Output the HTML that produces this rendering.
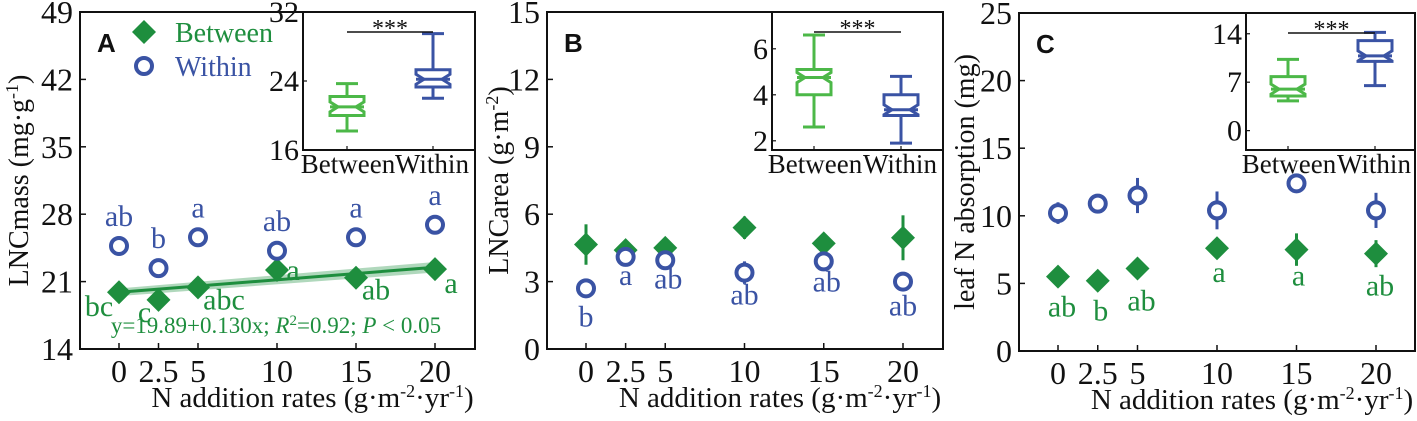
<!DOCTYPE html>
<html><head><meta charset="utf-8"><style>
html,body{margin:0;padding:0;background:#fff;}
svg{display:block;font-family:"Liberation Serif","DejaVu Serif",serif;}
</style></head><body>
<svg id="chart" width="1417" height="421" viewBox="0 0 1417 421" xmlns="http://www.w3.org/2000/svg" font-family="Liberation Serif, DejaVu Serif, serif"></svg>
<script>
const rates=[0,2.5,5,10,15,20];
const aBetween=[19.9,19.1,20.4,22.2,21.4,22.3];
const aBetweenErr=[0.3,0.3,0.4,0.6,0.5,0.4];
const aWithin=[24.7,22.4,25.6,24.2,25.6,26.9];
const aWithinErr=[1.0,0.3,0.3,0.5,0.3,1.0];
const aBetweenLetters=["bc","c","abc","a","ab","a"];
const aWithinLetters=["ab","b","a","ab","a","a"];
const bBetween=[4.65,4.4,4.5,5.4,4.7,4.95];
const bBetweenErr=[0.9,0.3,0.3,0.5,0.4,1.0];
const bWithin=[2.7,4.1,3.95,3.4,3.9,3.0];
const bWithinErr=[0.2,0.4,0.2,0.5,0.4,0.2];
const bWithinLetters=["b","a","ab","ab","ab","ab"];
const cBetween=[5.5,5.2,6.1,7.6,7.5,7.2];
const cBetweenErr=[0.3,0.3,0.3,0.3,1.2,1.0];
const cWithin=[10.2,10.9,11.5,10.4,12.4,10.4];
const cWithinErr=[0.8,0.3,1.3,1.4,0.3,1.3];
const cBetweenLetters=["ab","b","ab","a","a","ab"];
const insetGroups=["Between","Within"];
const aBox=[[18.2,20.0,21.0,22.2,23.7],[22.0,23.3,24.2,25.3,29.5]];
const bBox=[[2.6,4.0,4.75,5.1,6.6],[1.9,3.1,3.35,4.0,4.8]];
const cBox=[[4.3,5.0,6.0,7.8,10.3],[6.5,10.0,10.8,13.0,14.2]];
const aTicks=[14,21,28,35,42,49], bTicks=[0,3,6,9,12,15], cTicks=[0,5,10,15,20,25];
const aInTicks=[16,24,32], bInTicks=[2,4,6], cInTicks=[0,7,14];

const G="#1e8e3e", LG="#4cb848", B="#3a53a4";
const svg=document.getElementById('chart');
const NS="http://www.w3.org/2000/svg";
function el(tag,attrs,parent,text){const e=document.createElementNS(NS,tag);for(const k in attrs)e.setAttribute(k,attrs[k]);if(text!==undefined)e.textContent=text;(parent||svg).appendChild(e);return e;}

function panel(p){
  const g=el('g',{});
  
  
  const X=v=>p.x0+(v/20)*(p.x20-p.x0);
  const Y=v=>p.bot-(v-p.ymin)/(p.ymax-p.ymin)*(p.bot-p.top);
  const fr=el('rect',{x:p.L,y:p.top,width:p.R-p.L,height:p.bot-p.top,fill:'none',stroke:'#111','stroke-width':2},g);
  
  p.ticks.forEach(t=>{
    el('line',{x1:p.L,x2:p.L+6,y1:Y(t),y2:Y(t),stroke:'#111','stroke-width':1.5},g);
    const tx=el('text',{x:p.L-7,y:Y(t)+11,'text-anchor':'end','font-size':32,fill:'#111'},g,String(t));
    
  });
  rates.forEach(r=>{
    el('line',{x1:X(r),x2:X(r),y1:p.bot,y2:p.bot-6,stroke:'#111','stroke-width':1.5},g);
    const tx=el('text',{x:X(r),y:p.bot+33,'text-anchor':'middle','font-size':32,fill:'#111'},g,String(r));
    
  });
  const xt=el('text',{x:(p.L+p.R)/2+35,y:p.bot+58,'text-anchor':'middle','font-size':29,fill:'#111'},g);
  xt.innerHTML='N addition rates (g·m<tspan dy="-10" font-size="18">-2</tspan><tspan dy="10">·yr</tspan><tspan dy="-10" font-size="18">-1</tspan><tspan dy="10">)</tspan>';
  
  const cy=(p.top+p.bot)/2, yx=p.L-p.yoff;
  const yt=el('text',{x:yx,y:cy,'text-anchor':'middle','font-size':28,fill:'#111',transform:`rotate(-90 ${yx} ${cy})`},g);
  yt.innerHTML=p.ytitle;
  
  const lab=el('text',{x:p.L+17,y:p.top+40,'font-size':26,'font-weight':'bold','font-family':'Liberation Sans, sans-serif',fill:'#111'},g,p.id);
  
  if(p.fit){
    const [a,b]=p.fit;
    const band=el('polygon',{points:`${X(0)},${Y(a-0.4)} ${X(20)},${Y(a+20*b-0.55)} ${X(20)},${Y(a+20*b+0.55)} ${X(0)},${Y(a+0.4)}`,fill:G,opacity:0.35},g);
    
    const fl=el('line',{x1:X(0),y1:Y(a),x2:X(20),y2:Y(a+20*b),stroke:G,'stroke-width':3},g);
    
    const eq=el('text',{x:X(10)-1,y:p.bot-16,'text-anchor':'middle','font-size':23,fill:G},g);
    eq.innerHTML='y=19.89+0.130x; <tspan font-style="italic">R</tspan><tspan dy="-8" font-size="15">2</tspan><tspan dy="8">=0.92; </tspan><tspan font-style="italic">P</tspan> &lt; 0.05';
    
  }
  p.bet.forEach((v,i)=>{
    const x=X(rates[i]),y=Y(v),e=p.betErr[i]*(p.bot-p.top)/(p.ymax-p.ymin);
    el('line',{x1:x,x2:x,y1:y-e,y2:y+e,stroke:G,'stroke-width':3},g);
    const d=el('polygon',{points:`${x},${y-12} ${x+12},${y} ${x},${y+12} ${x-12},${y}`,fill:G},g);
    
  });
  p.wit.forEach((v,i)=>{
    const x=X(rates[i]),y=Y(v),e=p.witErr[i]*(p.bot-p.top)/(p.ymax-p.ymin);
    el('line',{x1:x,x2:x,y1:y-e,y2:y+e,stroke:B,'stroke-width':3},g);
    const c=el('circle',{cx:x,cy:y,r:8,fill:'#fff',stroke:B,'stroke-width':4},g);
    
  });
  (p.letters||[]).forEach(L=>{
    const t=el('text',{x:X(rates[L.i])+L.dx,y:Y(L.v)+L.dy,'text-anchor':'middle','font-size':30,fill:L.c},g,L.t);
    
  });
  const I=p.inset, IY=v=>I.bot-(v-I.min)/(I.max-I.min)*(I.bot-I.top);
  const ig=el('g',{},g);
  
  el('rect',{x:I.L,y:p.top,width:p.R-I.L,height:I.bot-p.top,fill:'#fff',stroke:'#111','stroke-width':2},ig);
  I.ticks.forEach(t=>{
    el('line',{x1:I.L,x2:I.L+4,y1:IY(t),y2:IY(t),stroke:'#111','stroke-width':1.2},ig);
    const tx=el('text',{x:I.L-4,y:IY(t)+10,'text-anchor':'end','font-size':30,fill:'#111'},ig,String(t));
    
  });
  [I.xb,I.xw].forEach((x,k)=>{
    el('line',{x1:x,x2:x,y1:I.bot,y2:I.bot-4,stroke:'#111','stroke-width':1.2},ig);
    const tx=el('text',{x:x+(k?-1:1),y:I.bot+23,'text-anchor':'middle','font-size':27,fill:'#111'},ig,insetGroups[k]);
    
    const s=I.box[k],col=k?B:LG,w=17,n=8;
    const [lo,q1,md,q3,hi]=s.map(IY);
    el('line',{x1:x,x2:x,y1:hi,y2:q3,stroke:col,'stroke-width':3},ig);
    el('line',{x1:x,x2:x,y1:q1,y2:lo,stroke:col,'stroke-width':3},ig);
    el('line',{x1:x-11,x2:x+11,y1:hi,y2:hi,stroke:col,'stroke-width':3},ig);
    el('line',{x1:x-11,x2:x+11,y1:lo,y2:lo,stroke:col,'stroke-width':3},ig);
    const nt=Math.min(5,(q1-q3)/3);
    const bx=el('polygon',{points:`${x-w},${q3} ${x+w},${q3} ${x+w},${md-nt} ${x+w-n},${md} ${x+w},${md+nt} ${x+w},${q1} ${x-w},${q1} ${x-w},${md+nt} ${x-w+n},${md} ${x-w},${md-nt}`,fill:'none',stroke:col,'stroke-width':3},ig);
    
    el('line',{x1:x-w,x2:x+w,y1:md,y2:md,stroke:col,'stroke-width':3},ig);
  });
  el('line',{x1:I.xb,x2:I.xw,y1:p.top+20,y2:p.top+20,stroke:'#111','stroke-width':1.5},ig);
  const st=el('text',{x:(I.xb+I.xw)/2,y:p.top+24,'text-anchor':'middle','font-size':24,fill:'#111'},ig,'***');
  
}

panel({id:'A',L:80,R:475,top:12,bot:349,x0:119,x20:435,ymin:14,ymax:49,ticks:aTicks,yoff:52,
  ytitle:'LNCmass (mg·g<tspan dy="-10" font-size="18">-1</tspan><tspan dy="10">)</tspan>',
  bet:aBetween,betErr:aBetweenErr,wit:aWithin,witErr:aWithinErr,fit:[19.89,0.13],
  letters:[...aBetweenLetters.map((t,i)=>({i,v:aBetween[i],t,c:G,dx:[-20,-14,26,16,20,16][i],dy:[24,22,22,10,22,24][i]})),
           ...aWithinLetters.map((t,i)=>({i,v:aWithin[i],t,c:B,dx:0,dy:-20}))],
  inset:{L:303,bot:150,top:12,min:16,max:32,ticks:aInTicks,xb:347,xw:433,box:aBox}});
panel({id:'B',L:547,R:943,top:12,bot:349,x0:586,x20:903,ymin:0,ymax:15,ticks:bTicks,yoff:39,
  ytitle:'LNCarea (g·m<tspan dy="-10" font-size="18">-2</tspan><tspan dy="10">)</tspan>',
  bet:bBetween,betErr:bBetweenErr,wit:bWithin,witErr:bWithinErr,
  letters:bWithinLetters.map((t,i)=>({i,v:bWithin[i],t,c:B,dx:[0,0,3,0,3,0][i],dy:[38,28,28,32,30,34][i]})),
  inset:{L:772,bot:150,top:12,min:1.6,max:7.6,ticks:bInTicks,xb:814,xw:901,box:bBox}});
panel({id:'C',L:1019,R:1415,top:13,bot:351,x0:1058,x20:1376,ymin:0,ymax:25,ticks:cTicks,yoff:45,
  ytitle:'leaf N absorption (mg)',
  bet:cBetween,betErr:cBetweenErr,wit:cWithin,witErr:cWithinErr,
  letters:cBetweenLetters.map((t,i)=>({i,v:cBetween[i],t,c:G,dx:[4,3,4,2,2,4][i],dy:[40,40,42,34,36,42][i]})),
  inset:{L:1246,bot:150,top:13,min:-2.8,max:17,ticks:cInTicks,xb:1288,xw:1375,box:cBox}});

const lg=el('g',{});

const ld=el('polygon',{points:'144,20 156,32 144,44 132,32',fill:G},lg);

const lt1=el('text',{x:175,y:42,'font-size':28,fill:G},lg,'Between');

const lc=el('circle',{cx:144,cy:66,r:8,fill:'none',stroke:B,'stroke-width':4},lg);

const lt2=el('text',{x:175,y:76,'font-size':28,fill:B},lg,'Within');

</script>
</body></html>
